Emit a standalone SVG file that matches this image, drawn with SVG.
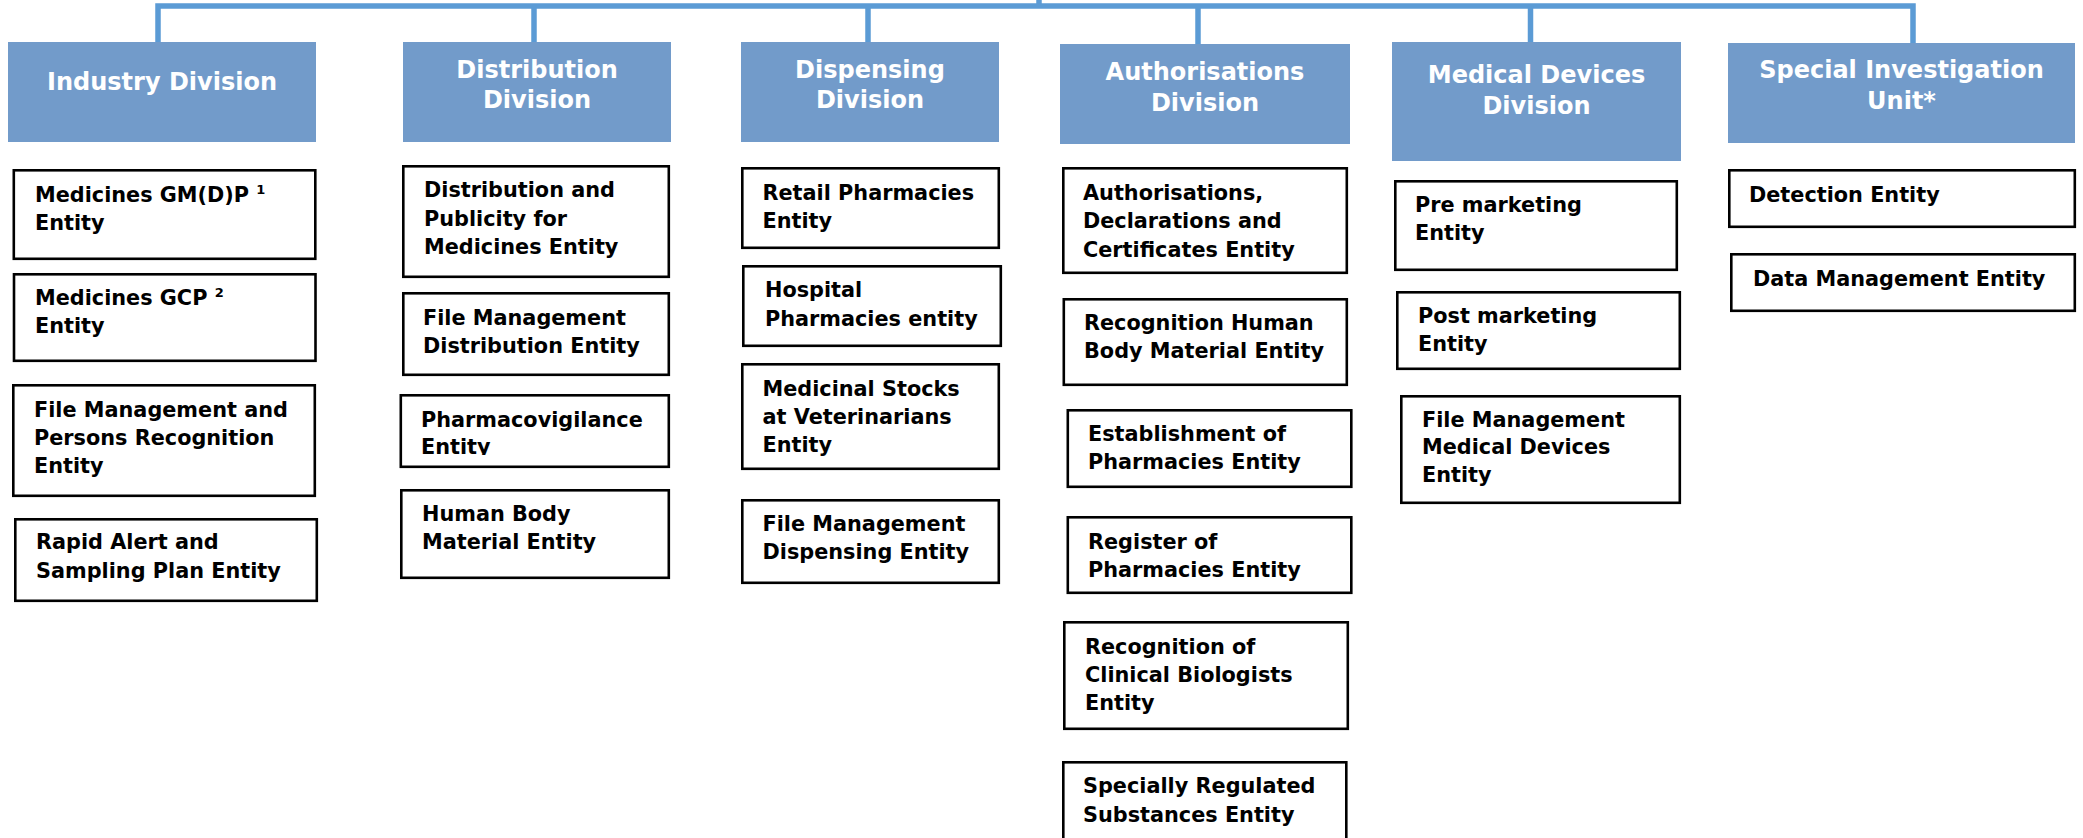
<svg xmlns="http://www.w3.org/2000/svg" width="2083" height="838" viewBox="0 0 2083 838">
<defs>
<style>
.hdr{fill:#729BCA;}
.ht{font-family:"DejaVu Sans","Verdana",sans-serif;font-weight:bold;font-size:24px;fill:#ffffff;text-anchor:middle;}
.box{fill:#ffffff;stroke:#000000;stroke-width:2.6;}
.bt{font-family:"DejaVu Sans","Verdana",sans-serif;font-weight:bold;font-size:20.8px;fill:#000000;}
.sup{font-size:13px;}
.conn{fill:none;stroke:#5B9BD5;stroke-width:5.5;}
</style>
<clipPath id="clipPV"><rect x="399" y="394" width="272" height="61"/></clipPath>
</defs>
<rect width="2083" height="838" fill="#ffffff"/>
<g id="connectors">
<path class="conn" d="M1039,0 V6"/>
<path class="conn" d="M158,42 V6 H1913 V43"/>
<path class="conn" d="M534,6 V42"/>
<path class="conn" d="M868,6 V42"/>
<path class="conn" d="M1198,6 V44"/>
<path class="conn" d="M1530.5,6 V42"/>
</g>
<g id="industry-division"><rect class="hdr" x="8" y="42" width="308" height="100"/><text class="ht" x="162" y="90">Industry Division</text></g>
<g id="distribution-division"><rect class="hdr" x="403" y="42" width="268" height="100"/><text class="ht" x="537" y="78">Distribution</text><text class="ht" x="537" y="108">Division</text></g>
<g id="dispensing-division"><rect class="hdr" x="741" y="42" width="258" height="100"/><text class="ht" x="870" y="78">Dispensing</text><text class="ht" x="870" y="108">Division</text></g>
<g id="authorisations-division"><rect class="hdr" x="1060" y="44" width="290" height="100"/><text class="ht" x="1205" y="80">Authorisations</text><text class="ht" x="1205" y="111">Division</text></g>
<g id="medical-devices-division"><rect class="hdr" x="1392" y="42" width="289" height="119"/><text class="ht" x="1536.5" y="83">Medical Devices</text><text class="ht" x="1536.5" y="114">Division</text></g>
<g id="special-investigation-unit"><rect class="hdr" x="1728" y="43" width="347" height="100"/><text class="ht" x="1901.5" y="78">Special Investigation</text><text class="ht" x="1901.5" y="109">Unit*</text></g>

<g id="medicines-gmdp"><rect class="box" x="13.8" y="170.3" width="301.5" height="88.5"/><text class="bt" x="35" y="202">Medicines GM(D)P <tspan class="sup" dy="-8">1</tspan></text><text class="bt" x="35" y="230">Entity</text></g>
<g id="medicines-gcp"><rect class="box" x="14" y="274.3" width="301.5" height="86.5"/><text class="bt" x="35" y="305">Medicines GCP <tspan class="sup" dy="-8">2</tspan></text><text class="bt" x="35" y="333">Entity</text></g>
<g id="file-management-persons"><rect class="box" x="13.3" y="385.3" width="301.5" height="110.5"/><text class="bt" x="34" y="417">File Management and</text><text class="bt" x="34" y="445">Persons Recognition</text><text class="bt" x="34" y="473">Entity</text></g>
<g id="rapid-alert"><rect class="box" x="15.3" y="519.3" width="301.5" height="81.5"/><text class="bt" x="36" y="549">Rapid Alert and</text><text class="bt" x="36" y="578">Sampling Plan Entity</text></g>

<g id="distribution-publicity"><rect class="box" x="403.3" y="166.3" width="265.5" height="110.5"/><text class="bt" x="424" y="197">Distribution and</text><text class="bt" x="424" y="226">Publicity for</text><text class="bt" x="424" y="254">Medicines Entity</text></g>
<g id="file-management-distribution"><rect class="box" x="403.3" y="293.3" width="265.5" height="81.5"/><text class="bt" x="423" y="325">File Management</text><text class="bt" x="423" y="353">Distribution Entity</text></g>
<g id="pharmacovigilance"><rect class="box" x="400.8" y="395.3" width="268" height="71.5"/><g clip-path="url(#clipPV)"><text class="bt" x="421" y="427">Pharmacovigilance</text><text class="bt" x="421" y="454">Entity</text></g></g>
<g id="human-body-material"><rect class="box" x="401.3" y="490.3" width="267.5" height="87.5"/><text class="bt" x="422" y="521">Human Body</text><text class="bt" x="422" y="549">Material Entity</text></g>

<g id="retail-pharmacies"><rect class="box" x="742.3" y="168.3" width="256.5" height="79.5"/><text class="bt" x="762.5" y="200">Retail Pharmacies</text><text class="bt" x="762.5" y="228">Entity</text></g>
<g id="hospital-pharmacies"><rect class="box" x="743.3" y="266.3" width="257.5" height="79.5"/><text class="bt" x="765" y="297">Hospital</text><text class="bt" x="765" y="326">Pharmacies entity</text></g>
<g id="medicinal-stocks"><rect class="box" x="742.3" y="364.3" width="256.5" height="104.5"/><text class="bt" x="762.5" y="396">Medicinal Stocks</text><text class="bt" x="762.5" y="424">at Veterinarians</text><text class="bt" x="762.5" y="452">Entity</text></g>
<g id="file-management-dispensing"><rect class="box" x="742.3" y="500.3" width="256.5" height="82.5"/><text class="bt" x="762.5" y="531">File Management</text><text class="bt" x="762.5" y="559">Dispensing Entity</text></g>

<g id="authorisations-declarations"><rect class="box" x="1063.3" y="168.3" width="283.5" height="104.5"/><text class="bt" x="1083" y="200">Authorisations,</text><text class="bt" x="1083" y="228">Declarations and</text><text class="bt" x="1083" y="257">Certificates Entity</text></g>
<g id="recognition-human-body"><rect class="box" x="1063.8" y="299.3" width="283" height="85.5"/><text class="bt" x="1084" y="330">Recognition Human</text><text class="bt" x="1084" y="358">Body Material Entity</text></g>
<g id="establishment-pharmacies"><rect class="box" x="1067.8" y="410.3" width="283.5" height="76.5"/><text class="bt" x="1088" y="441">Establishment of</text><text class="bt" x="1088" y="469">Pharmacies Entity</text></g>
<g id="register-pharmacies"><rect class="box" x="1067.8" y="517.3" width="283.5" height="75.5"/><text class="bt" x="1088" y="549">Register of</text><text class="bt" x="1088" y="577">Pharmacies Entity</text></g>
<g id="recognition-clinical-biologists"><rect class="box" x="1064.3" y="622.3" width="283.5" height="106.5"/><text class="bt" x="1085" y="654">Recognition of</text><text class="bt" x="1085" y="682">Clinical Biologists</text><text class="bt" x="1085" y="710">Entity</text></g>
<g id="specially-regulated-substances"><rect class="box" x="1063.3" y="762.3" width="283" height="100"/><text class="bt" x="1083" y="793">Specially Regulated</text><text class="bt" x="1083" y="822">Substances Entity</text></g>

<g id="pre-marketing"><rect class="box" x="1395.3" y="181.3" width="281.5" height="88.5"/><text class="bt" x="1415" y="212">Pre marketing</text><text class="bt" x="1415" y="240">Entity</text></g>
<g id="post-marketing"><rect class="box" x="1397.3" y="292.3" width="282.5" height="76.5"/><text class="bt" x="1418" y="323">Post marketing</text><text class="bt" x="1418" y="351">Entity</text></g>
<g id="file-management-medical-devices"><rect class="box" x="1401.3" y="396.3" width="278.5" height="106.5"/><text class="bt" x="1422" y="427">File Management</text><text class="bt" x="1422" y="454">Medical Devices</text><text class="bt" x="1422" y="482">Entity</text></g>

<g id="detection"><rect class="box" x="1729.3" y="170.3" width="345.5" height="56.5"/><text class="bt" x="1749" y="202">Detection Entity</text></g>
<g id="data-management"><rect class="box" x="1731.3" y="254.3" width="343.5" height="56.5"/><text class="bt" x="1753" y="286">Data Management Entity</text></g>
</svg>
